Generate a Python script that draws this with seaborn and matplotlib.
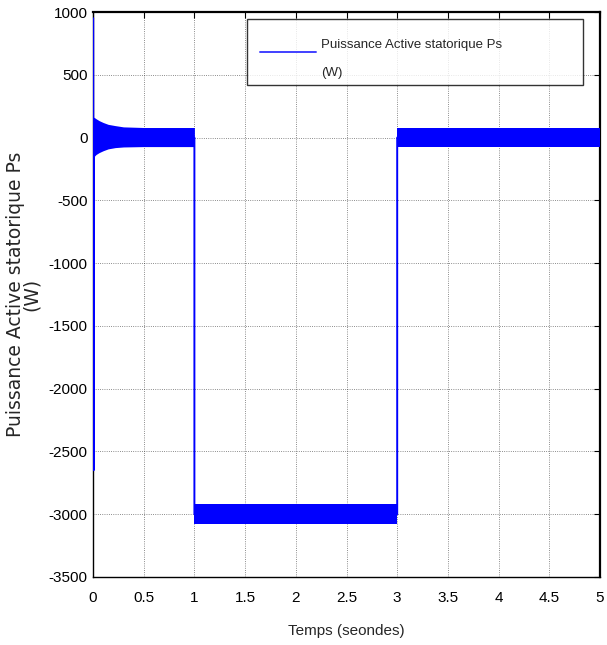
import numpy as np
import matplotlib
matplotlib.use("Agg")
import matplotlib.pyplot as plt
import matplotlib.transforms as mtransforms
import seaborn as sns

# ========================
# Data (Ps in W, t in s)
# ========================
# centre path of the signal: start-up spike, then steps at t=1 s and t=3 s
t_main = [0.002, 0.006, 0.010, 0.014, 1.0, 1.0, 3.0, 3.0, 5.0]
p_main = [950, -2650, 150, 0, 0, -3000, -3000, 0, 0]

# ripple envelope, 0 .. 1 s (decaying after start-up)
t_rip1 = [0.012, 0.03, 0.06, 0.10, 0.15, 0.22, 0.30, 0.50, 1.0]
up_rip1 = [160, 150, 135, 120, 105, 95, 85, 80, 80]
lo_rip1 = [-150, -135, -120, -105, -90, -80, -75, -72, -72]

# ripple envelope, 1 .. 3 s
t_rip2 = [1.0, 3.0]
up_rip2 = [-2920, -2920]
lo_rip2 = [-3075, -3075]

# ripple envelope, 3 .. 5 s
t_rip3 = [3.0, 5.0]
up_rip3 = [80, 80]
lo_rip3 = [-72, -72]

x_ticks = [0, 0.5, 1, 1.5, 2, 2.5, 3, 3.5, 4, 4.5, 5]
x_labels = ["0", "0.5", "1", "1.5", "2", "2.5", "3", "3.5", "4", "4.5", "5"]
y_ticks = [-3500, -3000, -2500, -2000, -1500, -1000, -500, 0, 500, 1000]

label = "Puissance Active statorique Ps\n(W)"

# ========================
# Style
# ========================
sns.set_style("white")
narrow = ["Liberation Sans Narrow", "Liberation Sans", "DejaVu Sans"]
plt.rcParams["font.family"] = narrow
plt.rcParams["axes.unicode_minus"] = False

fig = plt.figure(figsize=(6.07, 6.45), dpi=100)
ax = fig.add_axes([93 / 607, 1 - 577 / 645, 507 / 607, 565 / 645])

sns.lineplot(x=t_main, y=p_main, sort=False, estimator=None, color="blue",
             lw=1.4, ax=ax, label=label, zorder=3)
for t, up, lo in [(t_rip1, up_rip1, lo_rip1),
                  (t_rip2, up_rip2, lo_rip2),
                  (t_rip3, up_rip3, lo_rip3)]:
    ax.fill_between(t, lo, up, color="blue", lw=0, zorder=3)

ax.set_xlim(0, 5)
ax.set_ylim(-3500, 1000)
ax.set_xticks(x_ticks)
ax.set_xticklabels(x_labels)
ax.set_yticks(y_ticks)
ax.tick_params(direction="in", length=4, width=0.8, top=True, right=True,
               labelsize=11, colors="black")
ax.tick_params(axis="x", pad=10)
ax.tick_params(axis="y", pad=4)
ax.grid(True, color="black", linestyle=":", linewidth=0.6, alpha=0.6)
for s in ax.spines.values():
    s.set_color("black")
    s.set_linewidth(1.0)
ax.spines["top"].set_linewidth(1.6)
ax.spines["right"].set_linewidth(1.6)

ax.set_xlabel("Temps (seondes)", fontsize=11, labelpad=14)
ax.set_ylabel(label, fontsize=13.5, family=["DejaVu Sans"], linespacing=0.8)
ax.yaxis.set_label_coords((41 - 93) / 507, 0.5)

y_top = (577 - 19) / 565
leg = ax.legend(loc="upper left",
                bbox_to_anchor=((247 - 93) / 507, y_top - 0.01, (583 - 247) / 507, 0.01),
                mode="expand", fontsize=9.5, frameon=True, fancybox=False,
                borderpad=1.0, handlelength=4.2, handletextpad=0.4, borderaxespad=0)
leg.get_frame().set_edgecolor("black")
leg.get_frame().set_linewidth(1.0)
txt = leg.get_texts()[0]
txt.set_linespacing(2.75)
# nudge the legend text down a little, as in the reference
txt.set_transform(txt.get_transform()
                  + mtransforms.ScaledTranslation(0, -7 / 100, fig.dpi_scale_trans))
leg.legend_handles[0].set_color("#4040ff")

fig.savefig("out.png", dpi=100)
plt.close(fig)
